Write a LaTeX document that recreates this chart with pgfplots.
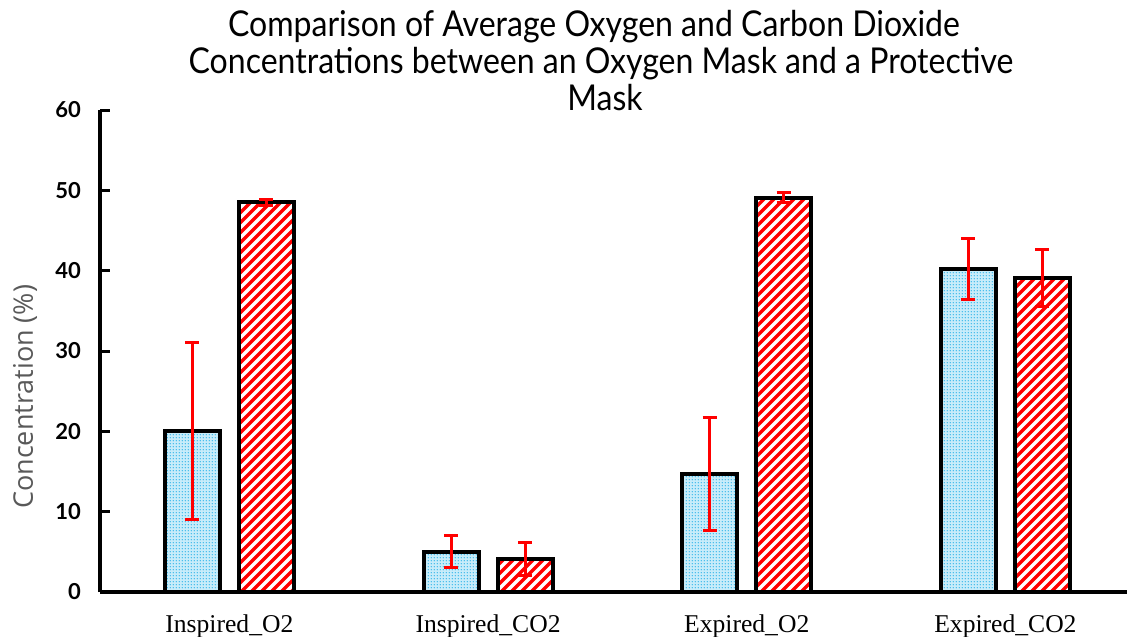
\documentclass[border=0pt]{standalone}
\usepackage{fontspec}
\setmainfont{Liberation Serif}
\newfontfamily\titlefont[FakeStretch=0.9]{Lato}
\newfontfamily\tickfont{Lato}
\newfontfamily\labelfont{Open Sans}
\usepackage{pgfplots}
\usepackage{pgfplotstable}
\pgfplotsset{compat=1.18}
\usetikzlibrary{patterns.meta}
\definecolor{dotbg}{HTML}{C8ECFA}
\definecolor{dotfg}{HTML}{1FAEE8}
\definecolor{ylab}{HTML}{595959}
\tikzdeclarepattern{
  name=redstripes,
  type=uncolored,
  bounding box={(0pt,0pt) and (5.2pt,5.2pt)},
  tile size={(5.2pt,5.2pt)},
  code={
    \pgfsetlinewidth{1.7pt}
    \pgfpathmoveto{\pgfpoint{-2.6pt}{-2.6pt}}\pgfpathlineto{\pgfpoint{7.8pt}{7.8pt}}
    \pgfpathmoveto{\pgfpoint{-2.6pt}{2.6pt}}\pgfpathlineto{\pgfpoint{2.6pt}{7.8pt}}
    \pgfpathmoveto{\pgfpoint{2.6pt}{-2.6pt}}\pgfpathlineto{\pgfpoint{7.8pt}{2.6pt}}
    \pgfusepath{stroke}
  }
}
\tikzdeclarepattern{
  name=bluedots,
  type=uncolored,
  bounding box={(0pt,0pt) and (1.6pt,1.6pt)},
  tile size={(1.6pt,1.6pt)},
  code={\pgfpathcircle{\pgfpoint{0.8pt}{0.8pt}}{0.42pt}\pgfusepath{fill}}
}
\pgfplotstableread{
x y e
0 20.0 11.0
1 5.0 2.0
2 14.7 7.0
3 40.2 3.8
}\oxy
\pgfplotstableread{
x y e
0 48.5 0.4
1 4.1 2.0
2 49.1 0.6
3 39.1 3.5
}\prot
\begin{document}
\begin{tikzpicture}
\begin{axis}[
  at={(50pt,22pt)}, anchor=south west,
  scale only axis, width=513.5pt, height=241pt,
  xmin=-0.5, xmax=3.47, ymin=0, ymax=60,
  axis x line=bottom, axis y line=left,
  axis line style={-, line width=2pt, black},
  xtick={0,1,2,3},
  xticklabels={Inspired\_O2, Inspired\_CO2, Expired\_O2, Expired\_CO2},
  xtick style={draw=none},
  xticklabel style={font=\fontsize{12.8}{15}\selectfont, anchor=base, yshift=-15pt},
  ytick={0,10,...,60},
  ytick style={line width=1.5pt, black},
  tick align=inside, major tick length=5pt,
  /pgf/number format/assume math mode=true,
  yticklabel style={font=\tickfont\bfseries\fontsize{11}{13}\selectfont, anchor=east, xshift=-6pt},
  ylabel={Concentration (\%)},
  every axis y label/.style={at={(axis description cs:-0.073,0.405)}, rotate=90, anchor=center,
    font=\labelfont\fontsize{13.5}{16}\selectfont, color=ylab},
  ybar, bar width=27.5pt,
  error bars/error bar style={red, line width=1.5pt},
  error bars/error mark options={rotate=90, red, mark size=3.5pt, line width=1.5pt},
]
\addplot[ybar, bar shift=-18.5pt, draw=black, line width=2pt,
  preaction={fill=dotbg}, pattern={bluedots}, pattern color=dotfg,
  error bars/.cd, y dir=both, y explicit]
  table[x=x, y=y, y error=e] {\oxy};
\addplot[ybar, bar shift=18.5pt, draw=black, line width=2pt,
  preaction={fill=white}, pattern={redstripes}, pattern color=red,
  error bars/.cd, y dir=both, y explicit]
  table[x=x, y=y, y error=e] {\prot};
\end{axis}
\pgfresetboundingbox
\useasboundingbox (0,0) rectangle (563.5pt,318pt);
\node[anchor=base, inner sep=0pt, font=\titlefont\fontsize{17.8}{20}\selectfont] at (297pt,299.5pt) {Comparison of Average Oxygen and Carbon Dioxide};
\node[anchor=base, inner sep=0pt, font=\titlefont\fontsize{17.8}{20}\selectfont] at (300.5pt,281pt) {Concentrations between an Oxygen Mask and a Protective};
\node[anchor=base, inner sep=0pt, font=\titlefont\fontsize{17.8}{20}\selectfont] at (302.5pt,262.5pt) {Mask};
\end{tikzpicture}
\end{document}
